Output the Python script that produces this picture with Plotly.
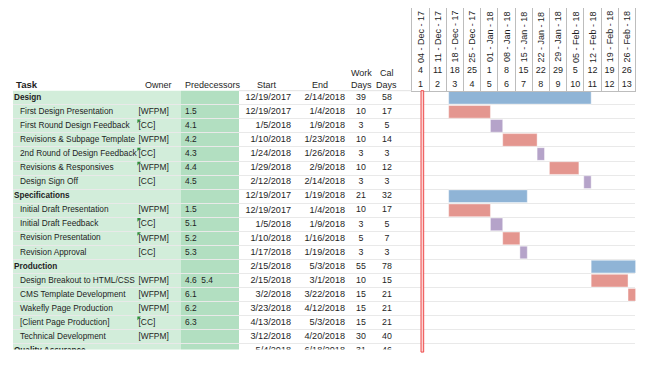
import plotly.graph_objects as go
from datetime import datetime, timedelta

# ---------------- data ----------------
TASKS = ["Design", "First Design Presentation", "First Round Design Feedback",
         "Revisions & Subpage Template", "2nd Round of Design Feedback",
         "Revisions & Responsives", "Design Sign Off",
         "Specifications", "Initial Draft Presentation", "Initial Draft Feedback",
         "Revision Presentation", "Revision Approval",
         "Production", "Design Breakout to HTML/CSS", "CMS Template Development",
         "Wakefly Page Production", "[Client Page Production]", "Technical Development",
         "Quality Assurance"]
IS_SECTION = [True, False, False, False, False, False, False,
              True, False, False, False, False,
              True, False, False, False, False, False,
              True]
OWNERS = ["", "[WFPM]", "[CC]", "[WFPM]", "[CC]", "[WFPM]", "[CC]",
          "", "[WFPM]", "[CC]", "[WFPM]", "[CC]",
          "", "[WFPM]", "[WFPM]", "[WFPM]", "[CC]", "[WFPM]",
          ""]
PREDECESSORS = ["", "1.5", "4.1", "4.2", "4.3", "4.4", "4.5",
                "", "1.5", "5.1", "5.2", "5.3",
                "", "4.6\u00a0\u00a05.4", "6.1", "6.2", "6.3", "",
                ""]
STARTS = ["12/19/2017", "12/19/2017", "1/5/2018", "1/10/2018", "1/24/2018", "1/29/2018", "2/12/2018",
          "12/19/2017", "12/19/2017", "1/5/2018", "1/10/2018", "1/17/2018",
          "2/15/2018", "2/15/2018", "3/2/2018", "3/23/2018", "4/13/2018", "3/12/2018",
          "5/4/2018"]
ENDS = ["2/14/2018", "1/4/2018", "1/9/2018", "1/23/2018", "1/26/2018", "2/9/2018", "2/14/2018",
        "1/19/2018", "1/4/2018", "1/9/2018", "1/16/2018", "1/19/2018",
        "5/3/2018", "3/1/2018", "3/22/2018", "4/12/2018", "5/3/2018", "4/20/2018",
        "6/18/2018"]
WORK_DAYS = [39, 10, 3, 10, 3, 10, 3, 21, 10, 3, 5, 3, 55, 10, 15, 15, 15, 30, 31]
CAL_DAYS = [58, 17, 5, 14, 3, 12, 3, 32, 17, 5, 7, 3, 78, 15, 21, 21, 21, 40, 46]
FLAGGED_ROWS = [2, 4, 5, 9, 10, 16]

WEEK_STARTS = ["2017-12-04", "2017-12-11", "2017-12-18", "2017-12-25", "2018-01-01",
               "2018-01-08", "2018-01-15", "2018-01-22", "2018-01-29", "2018-02-05",
               "2018-02-12", "2018-02-19", "2018-02-26"]
WEEK_LABELS = ["04 - Dec - 17", "11 - Dec - 17", "18 - Dec - 17", "25 - Dec - 17",
               "01 - Jan - 18", "08 - Jan - 18", "15 - Jan - 18", "22 - Jan - 18",
               "29 - Jan - 18", "05 - Feb - 18", "12 - Feb - 18", "19 - Feb - 18",
               "26 - Feb - 18"]
DAY_NUMS = [4, 11, 18, 25, 1, 8, 15, 22, 29, 5, 12, 19, 26]
WEEK_NUMS = [1, 2, 3, 4, 5, 6, 7, 8, 9, 10, 11, 12, 13]
TODAY = "2017-12-08"

# ---------------- layout constants (pixels of the 655x365 page) ----------------
PAGE_W, PAGE_H = 655, 365
OFF = 8                      # default page (body) margin of the html page
W, H = PAGE_W - OFF, PAGE_H - OFF
ROW_TOP, ROW_H, BODY_BOTTOM = 90.7, 14.07, 349.5
HEAD_TOP = OFF
TABLE_L, GANTT_L, GANTT_R = 13, 411.8, 635.4
FONT = "Liberation Sans, Arial, sans-serif"
TXT = "#1e1e1e"

BLUE, RED, PURPLE = "#8FB4D6", "#E4968F", "#B5A3C9"
GREEN_L, GREEN_D = "#D2EDDA", "#B2DFC1"


def px_x(p):
    return (p - OFF) / W


def px_y(p):
    return 1 - (p - OFF) / H


def parse(s):
    return datetime.strptime(s, "%m/%d/%Y")


rows = list(range(len(TASKS)))
range_start = datetime.strptime(WEEK_STARTS[0], "%Y-%m-%d")
range_end = datetime.strptime(WEEK_STARTS[-1], "%Y-%m-%d") + timedelta(days=7)
week_centers = [(datetime.strptime(w, "%Y-%m-%d") + timedelta(days=3.5)).strftime("%Y-%m-%d %H:%M:%S")
                for w in WEEK_STARTS]

fig = go.Figure()

# ---------------- gantt bars ----------------
groups = {"section": BLUE, "[WFPM]": RED, "[CC]": PURPLE}
for key, col in groups.items():
    idx = [i for i in rows if (IS_SECTION[i] if key == "section" else (not IS_SECTION[i] and OWNERS[i] == key))]
    base = [parse(STARTS[i]).strftime("%Y-%m-%d") for i in idx]
    dur = [((parse(ENDS[i]) + timedelta(days=1)) - parse(STARTS[i])).total_seconds() * 1000 for i in idx]
    fig.add_trace(go.Bar(
        y=idx, x=dur, base=base, orientation="h", width=0.9,
        marker=dict(color=col, line=dict(color="rgba(255,255,255,0.7)", width=0.6)),
        xaxis="x2", yaxis="y", hoverinfo="skip", showlegend=False))

# ---------------- table text ----------------
def text_trace(xpos, ys, texts, pos, size=8.4, bold=False):
    t = [f"<b>{s}</b>" if bold else s for s in texts]
    fig.add_trace(go.Scatter(
        x=[xpos] * len(ys), y=ys, text=t, mode="text", textposition=pos,
        textfont=dict(family=FONT, size=size, color=TXT),
        xaxis="x", yaxis="y", hoverinfo="skip", showlegend=False, cliponaxis=True))

sec_rows = [i for i in rows if IS_SECTION[i]]
task_rows = [i for i in rows if not IS_SECTION[i]]
text_trace(14, sec_rows, [TASKS[i] for i in sec_rows], "middle right", size=8.2, bold=True)
text_trace(20, task_rows, [TASKS[i] for i in task_rows], "middle right", size=8.3)
text_trace(138.5, rows, OWNERS, "middle right", size=8.4)
text_trace(185, rows, PREDECESSORS, "middle right", size=8.4)
text_trace(291, rows, STARTS, "middle left", size=9.1)
text_trace(345, rows, ENDS, "middle left", size=9.1)
text_trace(361, rows, [str(v) for v in WORK_DAYS], "middle center", size=8.8)
text_trace(387, rows, [str(v) for v in CAL_DAYS], "middle center", size=8.8)

# small cell indicator triangles
fig.add_trace(go.Scatter(
    x=[138.6] * len(FLAGGED_ROWS), y=[r - 0.36 for r in FLAGGED_ROWS], mode="markers",
    marker=dict(symbol="triangle-nw", size=4, color="#2F8F3A", line=dict(width=0)),
    xaxis="x", yaxis="y", hoverinfo="skip", showlegend=False))

# ---------------- gantt header ----------------
for yy, vals in ((71, DAY_NUMS), (85, WEEK_NUMS)):
    fig.add_trace(go.Scatter(
        x=week_centers, y=[yy] * len(vals), text=[str(v) for v in vals], mode="text",
        textposition="middle center", textfont=dict(family=FONT, size=9, color=TXT),
        xaxis="x3", yaxis="y2", hoverinfo="skip", showlegend=False))

annotations = []
for c, lab in zip(week_centers, WEEK_LABELS):
    annotations.append(dict(x=c, y=36.7, xref="x3", yref="y2", text=lab, textangle=-90,
                            showarrow=False, font=dict(family=FONT, size=9, color=TXT)))

# table header
def head(x, y, text, anchor="center", size=9, bold=False):
    annotations.append(dict(x=x, y=px_y(y), xref="x", yref="paper",
                            text=f"<b>{text}</b>" if bold else text, xanchor=anchor, yanchor="middle",
                            showarrow=False, font=dict(family=FONT, size=size, color=TXT)))

head(14, 84.3, "Task", "left", size=9.6, bold=True)
head(173.5, 84.8, "Owner", "right")
head(183, 84.8, "Predecessors", "left")
head(266.5, 84.8, "Start", "center")
head(320, 84.8, "End", "center")
head(361, 72.8, "Work", "center")
head(361, 85, "Days", "center")
head(386.5, 72.8, "Cal", "center")
head(386.5, 85, "Days", "center")

# ---------------- shapes ----------------
today = datetime.strptime(TODAY, "%Y-%m-%d")
shapes = [
    dict(type="rect", xref="x", yref="y domain", x0=TABLE_L, x1=181, y0=0, y1=1,
         fillcolor=GREEN_L, line=dict(width=0), layer="below"),
    dict(type="rect", xref="x", yref="y domain", x0=181, x1=239, y0=0, y1=1,
         fillcolor=GREEN_D, line=dict(width=0), layer="below"),
    dict(type="rect", xref="x2", yref="y domain",
         x0=(today - timedelta(hours=6)).strftime("%Y-%m-%d %H:%M"),
         x1=(today + timedelta(hours=20)).strftime("%Y-%m-%d %H:%M"),
         y0=-0.01, y1=1.0, fillcolor="#FAD2D2", line=dict(color="#EE4A4A", width=1), layer="above"),
    dict(type="line", xref="x", yref="paper", x0=239, x1=GANTT_L, y0=px_y(ROW_TOP), y1=px_y(ROW_TOP),
         line=dict(color="#E2E2E2", width=1)),
]

n_visible = -0.5 + (BODY_BOTTOM - ROW_TOP) / ROW_H

fig.update_layout(
    width=W, height=H, margin=dict(l=0, r=0, t=0, b=0),
    paper_bgcolor="white", plot_bgcolor="rgba(0,0,0,0)",
    barmode="overlay", showlegend=False,
    xaxis=dict(domain=[px_x(TABLE_L), px_x(GANTT_L)], range=[TABLE_L, GANTT_L], anchor="y",
               showgrid=False, zeroline=False, showticklabels=False, ticks=""),
    yaxis=dict(domain=[px_y(BODY_BOTTOM), px_y(ROW_TOP)], range=[n_visible, -0.5], anchor="x",
               tickmode="array", tickvals=[k + 0.5 for k in range(-1, 19)],
               showgrid=True, gridcolor="#E9E9E9", gridwidth=1,
               zeroline=False, showticklabels=False, ticks=""),
    xaxis2=dict(type="date", domain=[px_x(GANTT_L), px_x(GANTT_R)],
                range=[range_start, range_end], anchor="y",
                showgrid=False, zeroline=False, showticklabels=False, ticks=""),
    xaxis3=dict(type="date", domain=[px_x(GANTT_L), px_x(GANTT_R)],
                range=[range_start, range_end], anchor="y2",
                tickmode="linear", tick0=WEEK_STARTS[0], dtick=7 * 86400000,
                showgrid=True, gridcolor="#BDBDBD", gridwidth=1,
                showline=True, linecolor="#BDBDBD", linewidth=1,
                zeroline=False, showticklabels=False, ticks=""),
    yaxis2=dict(domain=[px_y(ROW_TOP), px_y(HEAD_TOP)], range=[ROW_TOP, HEAD_TOP], anchor="x3",
                showgrid=False, zeroline=False, showticklabels=False, ticks="",
                showline=True, mirror=True, linecolor="#BDBDBD", linewidth=1),
    shapes=shapes, annotations=annotations,
)

fig.write_html("out.html")
